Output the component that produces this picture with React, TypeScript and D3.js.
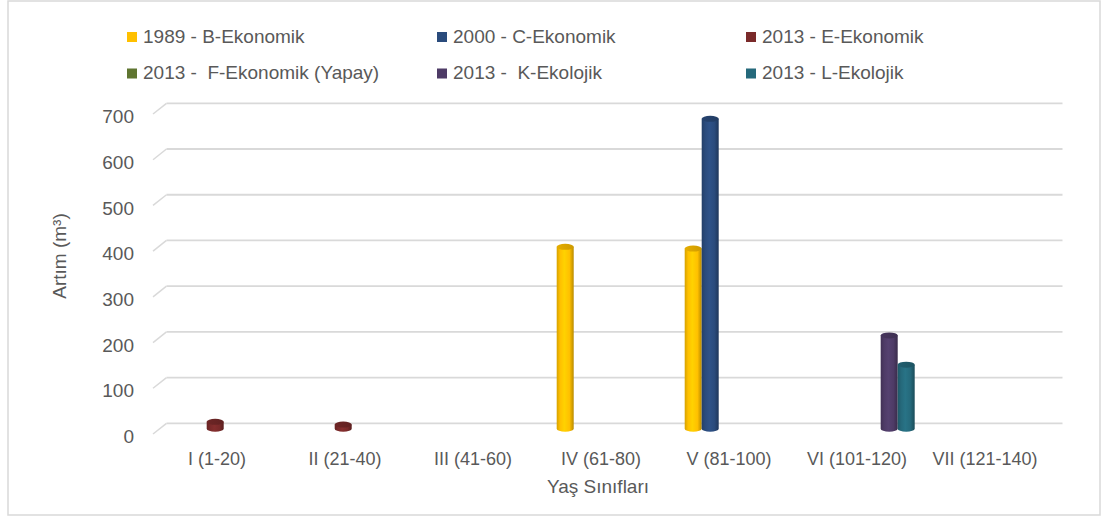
import React from "react";
import * as d3 from "d3";

const categories = ["I (1-20)", "II (21-40)", "III (41-60)", "IV (61-80)", "V (81-100)", "VI (101-120)", "VII (121-140)"];
const seriesNames = ["1989 - B-Ekonomik", "2000 - C-Ekonomik", "2013 - E-Ekonomik", "2013 -  F-Ekonomik (Yapay)", "2013 -  K-Ekolojik", "2013 - L-Ekolojik"];
const seriesColors = ["#FFC000", "#2A4B7C", "#7A2A2A", "#5F7530", "#4E3B66", "#25697B"];
const b1989 = [null, null, null, 398, 394, null, null];
const c2000 = [null, null, null, null, 678, null, null];
const e2013 = [15, 9, null, null, null, null, null];
const f2013 = [null, null, null, null, null, null, null];
const k2013 = [null, null, null, null, null, 204, null];
const l2013 = [null, null, null, null, null, 140, null];
const yTicks = [0, 100, 200, 300, 400, 500, 600, 700];

const seriesValues: (number | null)[][] = [b1989, c2000, e2013, f2013, k2013, l2013];

const W = 1103;
const H = 517;
const FONT = "'Liberation Sans', Arial, sans-serif";
const TXT = "#595959";
const GRID = "#d9d9d9";

const backDx = 13.5, backDy = -10.7;
const midDx = 6.7, midDy = -5.3;

export default function App() {
  const x = d3.scaleBand<string>().domain(categories).range([153, 1049]).padding(0);
  const y = d3.scaleLinear().domain([0, 700]).range([434, 114]);
  const inner = d3
    .scaleBand<number>()
    .domain(d3.range(seriesNames.length))
    .range([0, x.bandwidth()])
    .paddingInner(0)
    .paddingOuter(0.765);
  const bw = inner.bandwidth();
  const ry = 3;

  const bars: React.ReactNode[] = [];
  seriesValues.forEach((vals, si) => {
    vals.forEach((v, ci) => {
      if (v == null) return;
      const x0 = (x(categories[ci]) as number) + (inner(si) as number) + midDx;
      const x1 = x0 + bw;
      const cx = (x0 + x1) / 2;
      const rx = bw / 2;
      const topY = y(v) + midDy;
      const baseY = y(0) + midDy;
      const d = `M${x0},${topY} L${x0},${baseY} A${rx},${ry} 0 0 0 ${x1},${baseY} L${x1},${topY} Z`;
      bars.push(
        <g key={`b-${si}-${ci}`}>
          <path d={d} fill={`url(#grad${si})`} />
          <ellipse cx={cx} cy={topY} rx={rx} ry={ry} fill={`url(#top${si})`} />
        </g>
      );
    });
  });

  const legendCols = [127, 437, 746];
  const legendRows = [42.5, 79];

  return (
    <svg width={W} height={H} style={{ position: "absolute", left: 0, top: 0 }} fontFamily={FONT}>
      <defs>
        {seriesColors.map((c, i) => {
          const base = d3.color(c)!;
          const dark = base.darker(0.9).formatHex();
          const dark2 = base.darker(0.5).formatHex();
          const light = base.brighter(0.25).formatHex();
          return (
            <React.Fragment key={i}>
              <linearGradient id={`grad${i}`} x1="0" x2="1" y1="0" y2="0">
                <stop offset="0" stopColor={dark2} />
                <stop offset="0.2" stopColor={base.formatHex()} />
                <stop offset="0.45" stopColor={light} />
                <stop offset="0.75" stopColor={base.formatHex()} />
                <stop offset="1" stopColor={dark} />
              </linearGradient>
              <linearGradient id={`top${i}`} x1="0" x2="1" y1="0" y2="0">
                <stop offset="0" stopColor={base.darker(0.3).formatHex()} />
                <stop offset="1" stopColor={base.darker(0.6).formatHex()} />
              </linearGradient>
            </React.Fragment>
          );
        })}
      </defs>
      <rect x={0} y={0} width={W} height={H} fill="#fff" />
      <rect x={8} y={1} width={1092} height={514} fill="none" stroke={GRID} strokeWidth={1.5} />

      {/* gridlines */}
      {yTicks.map((t) => (
        <g key={`g${t}`}>
          <line x1={153} y1={y(t)} x2={153 + backDx} y2={y(t) + backDy} stroke={GRID} strokeWidth={1.5} />
          <line x1={153 + backDx} y1={y(t) + backDy} x2={1049 + backDx} y2={y(t) + backDy} stroke={GRID} strokeWidth={1.8} />
        </g>
      ))}

      {/* y tick labels */}
      {yTicks.map((t) => (
        <text key={`t${t}`} x={134} y={y(t) + 2.5} dy="0.35em" textAnchor="end" fontSize={19} fill={TXT}>
          {t}
        </text>
      ))}

      {bars}

      {/* x labels */}
      {categories.map((c) => (
        <text key={c} x={(x(c) as number) + x.bandwidth() / 2} y={465} textAnchor="middle" fontSize={18} fill={TXT}>
          {c}
        </text>
      ))}

      <text x={598} y={493} textAnchor="middle" fontSize={19} fill={TXT}>
        Yaş Sınıfları
      </text>
      <text transform="translate(59,256) rotate(-90)" textAnchor="middle" dy="0.35em" fontSize={19} fill={TXT}>
        Artım (m³)
      </text>

      {/* legend */}
      {seriesNames.map((n, i) => {
        const col = i % 3;
        const row = Math.floor(i / 3);
        const lx = legendCols[col];
        const ly = legendRows[row];
        return (
          <g key={n}>
            <rect x={lx} y={ly - 10.5} width={10} height={10} fill={seriesColors[i]} />
            <text x={lx + 16} y={ly} fontSize={19} fill={TXT} style={{ whiteSpace: "pre" }}>
              {n}
            </text>
          </g>
        );
      })}
    </svg>
  );
}
